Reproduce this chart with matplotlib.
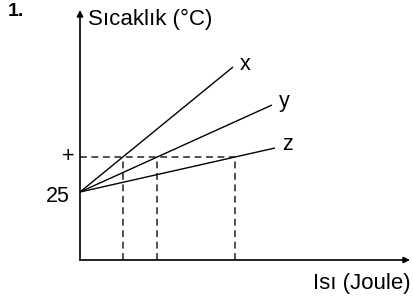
import matplotlib.pyplot as plt

plt.rcParams['font.family'] = ['Liberation Sans', 'DejaVu Sans']

# plot units: heat 0..330, temperature 0..250 (arbitrary, as drawn)
names     = ['x', 'y', 'z']
start_t   = 68                      # level labelled "25"
mark_t    = 103                     # level labelled "+"
end_heat  = [153, 192, 195]
end_temp  = [193, 155, 112]
cross_q   = [43, 77, 155]           # heat where each line reaches "+"
t_labels  = ['25', '+']

fig = plt.figure(figsize=(4.14, 3.03), dpi=100)
ax = fig.add_axes([80 / 414, 43 / 303, 330 / 414, 250 / 303])
ax.set_xlim(0, 330)
ax.set_ylim(0, 250)
ax.axis('off')

# axes with arrows
arrow = dict(arrowstyle='-|>', lw=1.2, color='black', mutation_scale=9,
             shrinkA=0, shrinkB=0)
ax.annotate('', xy=(330, 0), xytext=(0, 0), arrowprops=arrow, annotation_clip=False)
ax.annotate('', xy=(0, 250), xytext=(0, 0), arrowprops=arrow, annotation_clip=False)

# dashed guides
ax.plot([0, max(cross_q)], [mark_t, mark_t], color='#222222', lw=1.1,
        dashes=(4.5, 3), clip_on=False)
for q in cross_q:
    ax.plot([q, q], [0, mark_t], color='#222222', lw=1.1, dashes=(4.5, 3))

# lines
for n, q, t in zip(names, end_heat, end_temp):
    ax.plot([0, q], [start_t, t], color='black', lw=1.0, solid_capstyle='butt')
    ax.text(q + 7, t + 3, n, fontsize=15.5, ha='left', va='center')

ax.text(-22, start_t - 4, t_labels[0], fontsize=15.5, ha='center', va='center')
ax.text(-12, mark_t + 1, t_labels[1], fontsize=15.5, ha='center', va='center')

fig.text(16 / 414, 1 - 12 / 303, '1.', fontsize=14, fontweight='bold',
         ha='center', va='center')
fig.text(88 / 414, 1 - 19 / 303, 'Sıcaklık (°C)', fontsize=16, ha='left', va='center')
fig.text(411 / 414, 1 - 283 / 303, 'Isı (Joule)', fontsize=16, ha='right', va='center')

fig.savefig('out.png', dpi=100)
